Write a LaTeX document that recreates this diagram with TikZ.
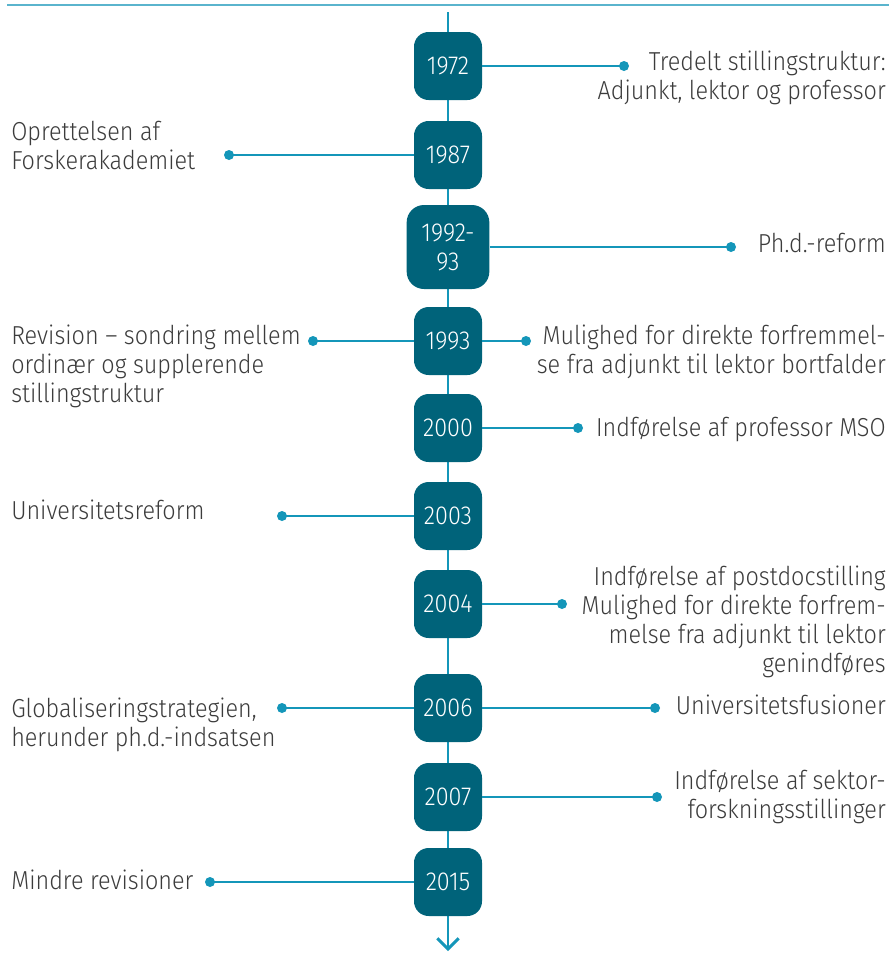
\documentclass[tikz,border=0pt]{standalone}
\usepackage{fontspec}
\setmainfont{Fira Sans Light}[FakeStretch=0.9]
\usepackage{tikz}
\usepackage{xcolor}
\usetikzlibrary{arrows.meta}
\definecolor{boxteal}{RGB}{0,99,122}
\definecolor{lineteal}{RGB}{20,150,185}
\definecolor{ruleteal}{RGB}{90,180,205}
\definecolor{textgrey}{RGB}{60,60,60}

\begin{document}
\begin{tikzpicture}[x=0.75pt, y=-0.75pt,
	year/.style={fill=boxteal, rounded corners=11pt, minimum width=51pt, minimum height=51pt,
		inner sep=0pt, text=white, align=center, font=\fontsize{19.5}{21.75}\selectfont},
	event/.style={inner sep=0pt, text=textgrey, font=\fontsize{19.5}{21.75}\selectfont},
	link/.style={draw=lineteal, line width=2.2pt},
	evdot/.style={fill=lineteal},
	timeline/.style={draw=lineteal, line width=2.2pt, -{Straight Barb[length=8pt, width=16pt]}}]
	\useasboundingbox (0,0) rectangle (889,954);
	% Draw top rule
	\coordinate (ruleL) at (7,5);
	\coordinate (ruleR) at (889,5);
	\draw[ruleteal, line width=2.2pt] (ruleL) -- (ruleR);
	% Draw timeline
	\coordinate (top) at (448,12);
	\coordinate (bottom) at (448,951);
	\draw[timeline] (top) -- (bottom);
	% Year boxes
	\foreach \yr/\ypos in {1972/66, 1987/155, 1993/341, 2000/428, 2003/516,
		2004/604, 2006/708, 2007/797, 2015/882}
		\node[year] (y\yr) at (448,\ypos) {\yr};
	\node[year, minimum width=62pt, minimum height=63pt, rounded corners=13pt] (y1992) at (448,247) {1992-\\93};
	% Dots
	\coordinate (d1972) at (624,66);
	\coordinate (d1987) at (229,155);
	\coordinate (d1992) at (731,247);
	\coordinate (d1993l) at (313,341);
	\coordinate (d1993r) at (526,341);
	\coordinate (d2000) at (578,428);
	\coordinate (d2003) at (282,516);
	\coordinate (d2004) at (562,604);
	\coordinate (d2006l) at (282,708);
	\coordinate (d2006r) at (655,708);
	\coordinate (d2007) at (657,797);
	\coordinate (d2015) at (210,882);
	% Connectors
	\draw[link] (y1972) -- (d1972);
	\draw[link] (y1987) -- (d1987);
	\draw[link] (y1992) -- (d1992);
	\draw[link] (y1993) -- (d1993l);
	\draw[link] (y1993) -- (d1993r);
	\draw[link] (y2000) -- (d2000);
	\draw[link] (y2003) -- (d2003);
	\draw[link] (y2004) -- (d2004);
	\draw[link] (y2006) -- (d2006l);
	\draw[link] (y2006) -- (d2006r);
	\draw[link] (y2007) -- (d2007);
	\draw[link] (y2015) -- (d2015);
	\foreach \d in {d1972, d1987, d1992, d1993l, d1993r, d2000, d2003, d2004, d2006l, d2006r, d2007, d2015}
		\fill[evdot] (\d) circle (3.75pt);
	% Event texts (base = last line)
	\node[event, anchor=base east, align=right] (t1972) at (886,99) {Tredelt stillingstruktur:\\Adjunkt, lektor og professor};
	\node[event, anchor=base west, align=left] (t1987) at (11,169) {Oprettelsen af\\Forskerakademiet};
	\node[event, anchor=base east] (t1992) at (886,252) {Ph.d.-reform};
	\node[event, anchor=base west, align=left] (t1993l) at (11,402) {Revision – sondring mellem\\ordinær og supplerende\\stillingstruktur};
	\node[event, anchor=base east, align=right] (t1993r) at (886,373) {Mulighed for direkte forfremmel-\\se fra adjunkt til lektor bortfalder};
	\node[event, anchor=base east] (t2000) at (886,436) {Indførelse af professor MSO};
	\node[event, anchor=base west] (t2003) at (11,519) {Universitetsreform};
	\node[event, anchor=base east, align=right] (t2004) at (886,672) {Indførelse af postdocstilling\\Mulighed for direkte forfrem-\\melse fra adjunkt til lektor\\genindføres};
	\node[event, anchor=base west, align=left] (t2006l) at (11,746) {Globaliseringstrategien,\\herunder ph.d.-indsatsen};
	\node[event, anchor=base east] (t2006r) at (886,714) {Universitetsfusioner};
	\node[event, anchor=base east, align=right] (t2007) at (886,818) {Indførelse af sektor-\\forskningsstillinger};
	\node[event, anchor=base west] (t2015) at (11,889) {Mindre revisioner};
\end{tikzpicture}
\end{document}
